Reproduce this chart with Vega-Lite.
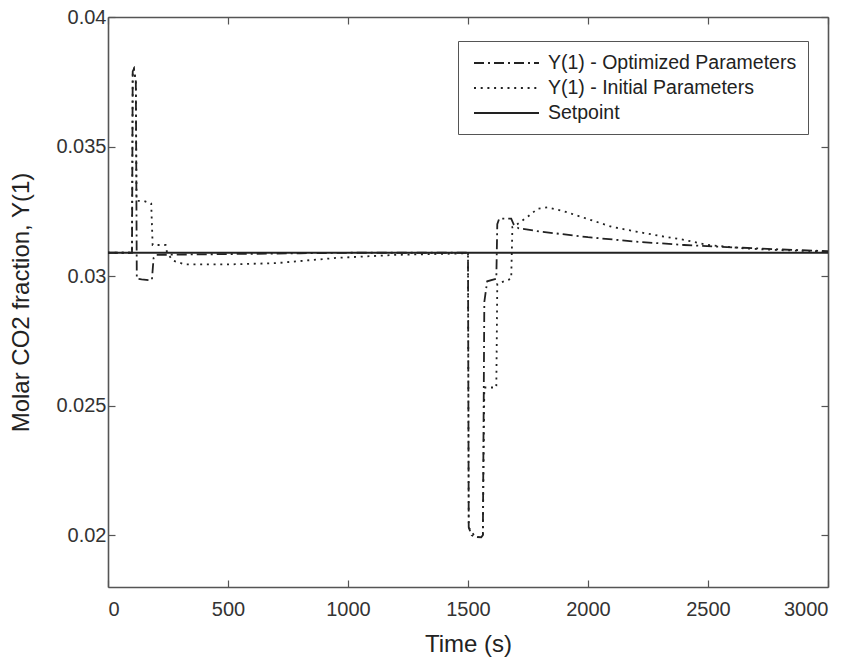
{
  "$schema": "https://vega.github.io/schema/vega-lite/v6.json",
  "width": 720,
  "height": 570,
  "autosize": "none",
  "padding": {"left": 108, "top": 17, "right": 27, "bottom": 74},
  "background": "white",
  "config": {
    "font": "Liberation Sans",
    "view": {"stroke": null},
    "axis": {"grid": false, "labelFont": "Liberation Sans", "titleFont": "Liberation Sans", "labelColor": "#333", "titleColor": "#222", "labelFontSize": 20, "titleFontSize": 24, "titleFontWeight": "normal", "domainColor": "#555", "domainWidth": 1.6, "tickColor": "#555", "tickWidth": 1.2, "tickSize": -7}
  },
  "data": {"values": [
    {"s": "Setpoint", "t": 0, "v": 0.0309},
    {"s": "Setpoint", "t": 3000, "v": 0.0309},
    {"s": "Y(1) - Optimized Parameters", "t": 0, "v": 0.0309},
    {"s": "Y(1) - Optimized Parameters", "t": 100, "v": 0.0309},
    {"s": "Y(1) - Optimized Parameters", "t": 103, "v": 0.0379},
    {"s": "Y(1) - Optimized Parameters", "t": 108, "v": 0.038},
    {"s": "Y(1) - Optimized Parameters", "t": 116, "v": 0.0375},
    {"s": "Y(1) - Optimized Parameters", "t": 120, "v": 0.0299},
    {"s": "Y(1) - Optimized Parameters", "t": 140, "v": 0.02987},
    {"s": "Y(1) - Optimized Parameters", "t": 175, "v": 0.02984},
    {"s": "Y(1) - Optimized Parameters", "t": 183, "v": 0.02986},
    {"s": "Y(1) - Optimized Parameters", "t": 190, "v": 0.0307},
    {"s": "Y(1) - Optimized Parameters", "t": 200, "v": 0.03082},
    {"s": "Y(1) - Optimized Parameters", "t": 300, "v": 0.03083},
    {"s": "Y(1) - Optimized Parameters", "t": 500, "v": 0.03085},
    {"s": "Y(1) - Optimized Parameters", "t": 800, "v": 0.03088},
    {"s": "Y(1) - Optimized Parameters", "t": 1000, "v": 0.0309},
    {"s": "Y(1) - Optimized Parameters", "t": 1500, "v": 0.0309},
    {"s": "Y(1) - Optimized Parameters", "t": 1503, "v": 0.0203},
    {"s": "Y(1) - Optimized Parameters", "t": 1515, "v": 0.02},
    {"s": "Y(1) - Optimized Parameters", "t": 1530, "v": 0.01993},
    {"s": "Y(1) - Optimized Parameters", "t": 1555, "v": 0.01992},
    {"s": "Y(1) - Optimized Parameters", "t": 1562, "v": 0.02},
    {"s": "Y(1) - Optimized Parameters", "t": 1568, "v": 0.029},
    {"s": "Y(1) - Optimized Parameters", "t": 1580, "v": 0.0298},
    {"s": "Y(1) - Optimized Parameters", "t": 1618, "v": 0.0299},
    {"s": "Y(1) - Optimized Parameters", "t": 1622, "v": 0.032},
    {"s": "Y(1) - Optimized Parameters", "t": 1630, "v": 0.03222},
    {"s": "Y(1) - Optimized Parameters", "t": 1680, "v": 0.03222},
    {"s": "Y(1) - Optimized Parameters", "t": 1690, "v": 0.032},
    {"s": "Y(1) - Optimized Parameters", "t": 1710, "v": 0.03185},
    {"s": "Y(1) - Optimized Parameters", "t": 1800, "v": 0.03172},
    {"s": "Y(1) - Optimized Parameters", "t": 2000, "v": 0.0315},
    {"s": "Y(1) - Optimized Parameters", "t": 2200, "v": 0.03133},
    {"s": "Y(1) - Optimized Parameters", "t": 2400, "v": 0.0312},
    {"s": "Y(1) - Optimized Parameters", "t": 2600, "v": 0.03111},
    {"s": "Y(1) - Optimized Parameters", "t": 2800, "v": 0.03103},
    {"s": "Y(1) - Optimized Parameters", "t": 3000, "v": 0.03096},
    {"s": "Y(1) - Initial Parameters", "t": 0, "v": 0.0309},
    {"s": "Y(1) - Initial Parameters", "t": 100, "v": 0.0309},
    {"s": "Y(1) - Initial Parameters", "t": 103, "v": 0.0379},
    {"s": "Y(1) - Initial Parameters", "t": 108, "v": 0.038},
    {"s": "Y(1) - Initial Parameters", "t": 116, "v": 0.0375},
    {"s": "Y(1) - Initial Parameters", "t": 119, "v": 0.0329},
    {"s": "Y(1) - Initial Parameters", "t": 150, "v": 0.0329},
    {"s": "Y(1) - Initial Parameters", "t": 180, "v": 0.0328},
    {"s": "Y(1) - Initial Parameters", "t": 186, "v": 0.0312},
    {"s": "Y(1) - Initial Parameters", "t": 240, "v": 0.0312},
    {"s": "Y(1) - Initial Parameters", "t": 246, "v": 0.0309},
    {"s": "Y(1) - Initial Parameters", "t": 270, "v": 0.0306},
    {"s": "Y(1) - Initial Parameters", "t": 320, "v": 0.03045},
    {"s": "Y(1) - Initial Parameters", "t": 500, "v": 0.03045},
    {"s": "Y(1) - Initial Parameters", "t": 700, "v": 0.0305},
    {"s": "Y(1) - Initial Parameters", "t": 950, "v": 0.0307},
    {"s": "Y(1) - Initial Parameters", "t": 1200, "v": 0.03082},
    {"s": "Y(1) - Initial Parameters", "t": 1500, "v": 0.03088},
    {"s": "Y(1) - Initial Parameters", "t": 1503, "v": 0.0203},
    {"s": "Y(1) - Initial Parameters", "t": 1530, "v": 0.01993},
    {"s": "Y(1) - Initial Parameters", "t": 1555, "v": 0.01992},
    {"s": "Y(1) - Initial Parameters", "t": 1562, "v": 0.02},
    {"s": "Y(1) - Initial Parameters", "t": 1568, "v": 0.0257},
    {"s": "Y(1) - Initial Parameters", "t": 1618, "v": 0.0257},
    {"s": "Y(1) - Initial Parameters", "t": 1622, "v": 0.0297},
    {"s": "Y(1) - Initial Parameters", "t": 1680, "v": 0.0299},
    {"s": "Y(1) - Initial Parameters", "t": 1685, "v": 0.0319},
    {"s": "Y(1) - Initial Parameters", "t": 1705, "v": 0.032},
    {"s": "Y(1) - Initial Parameters", "t": 1750, "v": 0.0323},
    {"s": "Y(1) - Initial Parameters", "t": 1790, "v": 0.0326},
    {"s": "Y(1) - Initial Parameters", "t": 1830, "v": 0.03265},
    {"s": "Y(1) - Initial Parameters", "t": 1900, "v": 0.0325},
    {"s": "Y(1) - Initial Parameters", "t": 2000, "v": 0.0322},
    {"s": "Y(1) - Initial Parameters", "t": 2100, "v": 0.0319},
    {"s": "Y(1) - Initial Parameters", "t": 2200, "v": 0.03172},
    {"s": "Y(1) - Initial Parameters", "t": 2300, "v": 0.03155},
    {"s": "Y(1) - Initial Parameters", "t": 2400, "v": 0.0314},
    {"s": "Y(1) - Initial Parameters", "t": 2500, "v": 0.0312},
    {"s": "Y(1) - Initial Parameters", "t": 2650, "v": 0.03107},
    {"s": "Y(1) - Initial Parameters", "t": 2800, "v": 0.031},
    {"s": "Y(1) - Initial Parameters", "t": 3000, "v": 0.03095}
  ]},
  "layer": [
    {
      "mark": {"type": "line", "color": "#222", "strokeWidth": 1.8, "clip": true},
      "encoding": {
        "x": {"field": "t", "type": "quantitative", "scale": {"domain": [0, 3000], "nice": false, "zero": false},
              "axis": {"orient": "bottom", "title": "Time (s)", "values": [0, 500, 1000, 1500, 2000, 2500, 3000], "format": "d", "labelPadding": 19, "titlePadding": 13}},
        "y": {"field": "v", "type": "quantitative", "scale": {"domain": [0.018, 0.04], "nice": false, "zero": false},
              "axis": {"orient": "left", "title": "Molar CO2 fraction, Y(1)", "values": [0.02, 0.025, 0.03, 0.035, 0.04], "format": "~g", "labelPadding": 9, "titlePadding": 22}},
        "strokeDash": {"field": "s", "type": "nominal",
          "scale": {"domain": ["Y(1) - Optimized Parameters", "Y(1) - Initial Parameters", "Setpoint"], "range": [[10, 4, 2, 4], [2, 4.7], [1, 0]]},
          "legend": {"title": null, "orient": "none", "legendX": 350, "legendY": 24, "symbolType": "M-0.6,0H5.9", "symbolSize": 400, "symbolStrokeColor": "#222", "symbolStrokeWidth": 1.8, "symbolFillColor": "transparent",
                     "labelFont": "Liberation Sans", "labelFontSize": 19.5, "labelColor": "#222", "labelOffset": 57, "rowPadding": 4, "padding": 11,
                     "fillColor": "white", "strokeColor": "#555", "cornerRadius": 0, "labelLimit": 400}},
        "detail": {"field": "s"}
      }
    },
    {
      "mark": {"type": "line", "strokeOpacity": 0},
      "encoding": {
        "x": {"field": "t", "type": "quantitative", "axis": {"orient": "top", "title": null, "labels": false, "values": [0, 500, 1000, 1500, 2000, 2500, 3000]}},
        "y": {"field": "v", "type": "quantitative", "axis": {"orient": "right", "title": null, "labels": false, "values": [0.02, 0.025, 0.03, 0.035, 0.04]}},
        "detail": {"field": "s"}
      }
    }
  ],
  "resolve": {"axis": {"x": "independent", "y": "independent"}}
}
